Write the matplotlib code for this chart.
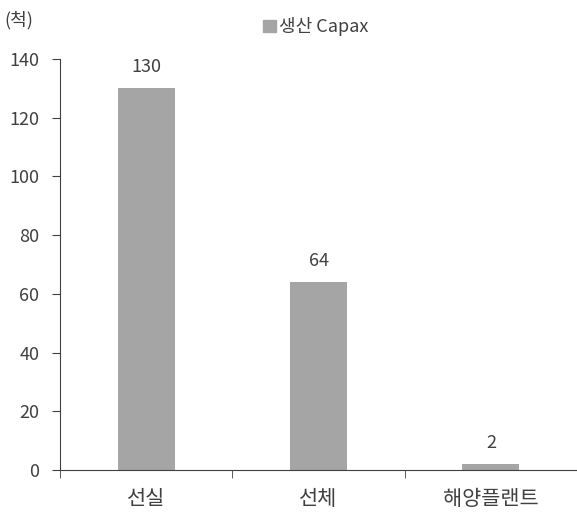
import matplotlib.pyplot as plt
from matplotlib.patches import Patch

plt.rcParams['font.family'] = ['Noto Sans CJK KR', 'DejaVu Sans']

# 데이터
categories = ['선실', '선체', '해양플랜트']
values = [130, 64, 2]
series_name = '생산 Capax'
y_ticks = [0, 20, 40, 60, 80, 100, 120, 140]

bar_color = '#A5A5A5'
text_color = '#404040'

fig = plt.figure(figsize=(5.77, 5.17), dpi=100)
ax = fig.add_axes([60 / 577, 47 / 517, 1 - 60 / 577, (470 - 59) / 517])

x = list(range(len(categories)))
ax.bar(x, values, width=0.33, color=bar_color, label=series_name)

# 막대 위 값 표시
for xi, v in zip(x, values):
    ax.annotate(str(v), (xi, v), xytext=(0, 9), textcoords='offset points',
                ha='center', va='bottom', fontsize=13, color=text_color)

ax.set_xlim(-0.5, len(categories) - 0.5)
ax.set_ylim(0, 140)
ax.set_yticks(y_ticks)
ax.set_xticks(x)
ax.set_xticklabels(categories, fontsize=15, color=text_color)
ax.set_xticks([i - 0.5 for i in x], minor=True)
ax.tick_params(axis='x', which='major', length=0, pad=13)
ax.tick_params(axis='x', which='minor', length=6, direction='out', color='#404040')
ax.tick_params(axis='y', length=6, direction='out', labelsize=13,
               labelcolor=text_color, color='#404040', pad=9)

for side in ['top', 'right']:
    ax.spines[side].set_visible(False)
ax.spines['left'].set_color('#404040')
ax.spines['bottom'].set_color('#404040')

# 단위 표시
fig.text(4 / 577, 1 - 20 / 517, '(척)', fontsize=13, color=text_color, va='center', ha='left')

# 범례
ax.legend(handles=[Patch(color=bar_color, label=series_name)], loc='center',
          bbox_to_anchor=(0.495, 1.078), frameon=False,
          fontsize=13, handlelength=0.7, handleheight=0.7, handletextpad=0.2,
          labelcolor=text_color, borderpad=0, borderaxespad=0)

fig.savefig('out.png', dpi=100)
